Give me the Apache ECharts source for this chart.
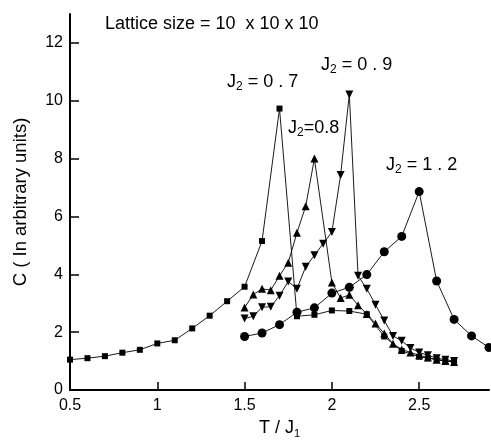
<!DOCTYPE html>
<html><head><meta charset="utf-8">
<script src="https://cdn.jsdelivr.net/npm/echarts@6/dist/echarts.min.js"></script>
<style>html,body{margin:0;padding:0;background:#fff}#c{width:491px;height:444px}</style>
</head><body><div id="c"></div>
<script>
// J2 = 0.7 (squares)
const t07 = [0.5,0.6,0.7,0.8,0.9,1.0,1.1,1.2,1.3,1.4,1.5,1.6,1.7,1.8,1.9,2.0,2.1,2.2,2.3,2.4,2.5,2.55,2.6,2.65,2.7];
const c07 = [1.05,1.10,1.17,1.29,1.39,1.61,1.72,2.13,2.57,3.07,3.57,5.15,9.73,2.55,2.6,2.75,2.73,2.62,1.85,1.35,1.15,1.1,1.05,1.0,0.97];
// J2 = 0.8 (up triangles)
const t08 = [1.5,1.55,1.6,1.65,1.7,1.75,1.8,1.85,1.9,2.0,2.05,2.1,2.15,2.2,2.25,2.3,2.35,2.4,2.45,2.5,2.55,2.6,2.65,2.7];
const c08 = [2.85,3.3,3.5,3.45,3.95,4.4,5.44,6.35,8.0,3.72,3.18,3.29,2.93,2.63,2.3,1.95,1.6,1.4,1.3,1.2,1.12,1.05,1.0,0.97];
// J2 = 0.9 (down triangles)
const t09 = [1.5,1.55,1.6,1.65,1.7,1.75,1.8,1.85,1.9,1.95,2.0,2.05,2.1,2.15,2.2,2.25,2.3,2.35,2.4,2.45,2.5,2.55,2.6,2.65,2.7];
const c09 = [2.47,2.55,2.86,2.88,3.26,3.75,3.5,4.26,4.66,5.06,5.46,7.43,10.22,3.95,3.5,2.95,2.4,1.87,1.7,1.45,1.3,1.2,1.1,1.05,1.0];
// J2 = 1.2 (circles)
const t12 = [1.5,1.6,1.7,1.8,1.9,2.0,2.1,2.2,2.3,2.4,2.5,2.6,2.7,2.8,2.9];
const c12 = [1.85,1.97,2.26,2.69,2.84,3.35,3.55,3.99,4.78,5.31,6.86,3.77,2.44,1.87,1.47];
const xTicks = [0.5,1,1.5,2,2.5];
const yTicks = [0,2,4,6,8,10,12];

const F = 'Liberation Sans, Arial, Helvetica, sans-serif';
const zip = (a,b)=>a.map((v,i)=>[v,b[i]]);
function ser(t,c,sym,size,rot){
  return {type:'line',data:zip(t,c),symbol:sym,symbolSize:size,symbolRotate:rot||0,
    lineStyle:{color:'#000',width:0.9},itemStyle:{color:'#000'},showSymbol:true,animation:false};
}
const chart = echarts.init(document.getElementById('c'));
const lbl = (txt,x,y)=>({type:'text',left:x,top:y,style:{rich:{s:{fontSize:12,fontFamily:F,fill:'#000',verticalAlign:'bottom',padding:[10,0,0,0]}},text:txt,font:'18px '+F,fill:'#000'}});
chart.setOption({
  animation:false,
  grid:{left:70,right:2,top:14,bottom:51},
  xAxis:{type:'value',min:0.5,max:2.9,interval:0.5,
    axisLine:{lineStyle:{color:'#000',width:2}},
    axisTick:{inside:true,length:8,lineStyle:{color:'#000',width:1.5},customValues:xTicks},
    axisLabel:{color:'#000',fontSize:16,fontFamily:F,margin:8,customValues:xTicks,formatter:v=>String(v)},
    splitLine:{show:false},
    name:'T / J{s|1}',nameLocation:'middle',nameGap:27,
    nameTextStyle:{color:'#000',fontSize:18,fontFamily:F,rich:{s:{fontSize:11,fontFamily:F,color:'#000',verticalAlign:'bottom',padding:[11,0,0,0]}}}},
  yAxis:{type:'value',min:0,max:13,interval:2,
    axisLine:{show:true,lineStyle:{color:'#000',width:2}},
    axisTick:{show:true,inside:true,length:9,lineStyle:{color:'#000',width:1.5},customValues:yTicks},
    axisLabel:{color:'#000',fontSize:16,fontFamily:F,margin:7,customValues:yTicks},
    splitLine:{show:false},
    name:'C ( In arbitrary units)',nameLocation:'middle',nameGap:40,
    nameTextStyle:{color:'#000',fontSize:18.5,fontFamily:F}},
  series:[
    ser(t07,c07,'rect',6),
    ser(t08,c08,'triangle',8),
    ser(t09,c09,'triangle',8,180),
    ser(t12,c12,'circle',9)
  ],
  graphic:[
    {type:'text',left:105,top:15,style:{text:'Lattice size = 10  x 10 x 10',font:'18px '+F,fill:'#000'}},
    lbl('J{s|2} = 0 . 7',227,73),
    lbl('J{s|2} = 0 . 9',321,56),
    lbl('J{s|2}=0.8',288,119),
    lbl('J{s|2} = 1 . 2',386,156)
  ]
});
</script></body></html>
